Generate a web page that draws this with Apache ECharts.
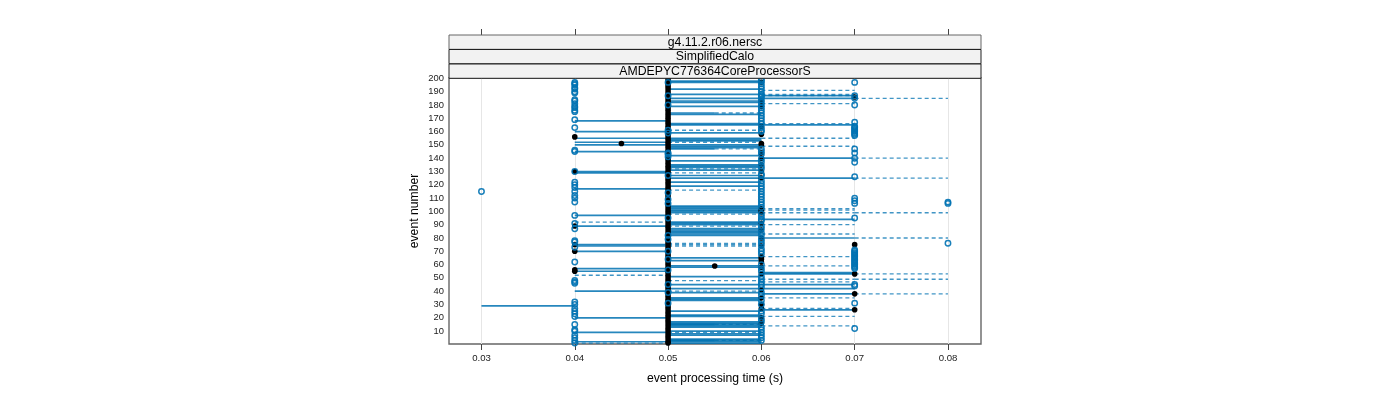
<!DOCTYPE html>
<html><head><meta charset="utf-8">
<script src="https://cdn.jsdelivr.net/npm/echarts@6/dist/echarts.min.js"></script>
<style>html,body{margin:0;padding:0;background:#fff}#c{width:1400px;height:400px}</style>
</head><body><div id="c"></div>
<script>
const stripLabels = ['g4.11.2.r06.nersc', 'SimplifiedCalo', 'AMDEPYC776364CoreProcessorS'];
const xTicks = [0.03, 0.04, 0.05, 0.06, 0.07, 0.08];
const yTicks = [10,20,30,40,50,60,70,80,90,100,110,120,130,140,150,160,170,180,190,200];

// box segments, by event number
const solid0304 = [29];
const solid0405 = [168,160,155,152,150,145,130,129,117,97,89,75,74,70,57,55,40,20,9,2];
const solid0506 = [198,197,192,188,185,183,182,179,173,166,165,159,155,154,153,150,149,148,142,138,135,134,133,131,127,125,122,119,104,103,102,101,100,99,92,91,90,87,86,85,84,83,82,65,63,59,58,51,45,42,39,35,34,33,25,22,21,17,16,15,14,13,10,8,7,4,3,2,1];
const solid0607 = [187,185,165,140,125,94,80,54,53,45,42,38,26];
const solid05055 = [174,147,15,3];
const dashed0405 = [92,52,1];
const dashed05506 = [174,147,15,3];
const dashed0506 = [161,152,132,129,116,98,89,76,75,74,48,40,9];
const dashed0607 = [191,188,187,181,166,155,149,102,101,99,90,83,66,59,49,47,35,27,21,14];
const dashed0708 = [185,140,125,99,80,53,49,38];

// open points, by event number
const open03 = [115];
const open04 = [197,196,195,193,192,190,189,184,183,181,179,178,176,175,169,163,146,145,130,122,120,118,115,112,110,107,97,91,87,78,77,73,62,48,47,46,32,30,27,25,23,21,15,11,10,7,5,3,1];
const open05 = [197,187,180,161,159,144,143,141,127,114,109,106,95,82,79,70,64,56,45,39,31];
const open06 = [199,198,196,194,192,190,188,187,186,184,182,180,178,176,174,172,170,168,166,163,161,160,147,145,143,139,137,134,132,128,127,123,121,119,117,115,113,111,109,107,105,103,98,96,94,93,89,87,84,82,79,77,75,72,70,68,60,57,55,51,49,47,45,43,39,37,33,30,25,23,19,17,13,11,9,7,5,3];
const open07 = [197,187,185,180,167,164,163,162,161,160,159,158,157,147,144,140,137,126,110,108,106,95,71,70,69,68,67,66,65,64,63,62,61,60,59,58,57,45,44,31,12];
const open08 = [107,106,76];

// medians, by event number
const dot04 = [156,130,89,75,70,56,55];
const dot045 = [151];
const dot05 = [200,198,196,194,192,190,188,186,184,182,180,178,176,174,172,170,168,166,164,162,160,158,156,154,152,150,148,146,144,142,140,138,136,134,132,130,128,126,124,122,120,118,116,114,112,110,108,106,104,102,100,98,96,94,92,90,88,86,84,82,80,78,76,74,72,70,68,66,64,62,60,58,56,54,52,50,48,46,44,42,40,38,36,34,32,30,28,26,24,22,20,18,16,14,12,10,8,6,4,2,1];
const dot055 = [59];
const dot06 = [197,183,179,164,158,151,150,144,140,135,130,125,102,101,100,99,91,86,80,74,66,65,64,62,58,53,41,35,30,27,20,16];
const dot07 = [186,75,53,38,26];

const BLUE = 'rgb(0,114,178)';
const spans = (list, a, b) => list.map(e => [a, b, e]);
const solidSegs = [...spans(solid0304,0.03,0.04), ...spans(solid0405,0.04,0.05), ...spans(solid0506,0.05,0.06), ...spans(solid0607,0.06,0.07), ...spans(solid05055,0.05,0.055)];
const dashedSegs = [...spans(dashed0405,0.04,0.05), ...spans(dashed05506,0.055,0.06), ...spans(dashed0506,0.05,0.06), ...spans(dashed0607,0.06,0.07), ...spans(dashed0708,0.07,0.08)];
const pts = (list, x) => list.map(e => [x, e]);
const openPts = [...pts(open03,0.03), ...pts(open04,0.04), ...pts(open05,0.05), ...pts(open06,0.06), ...pts(open07,0.07), ...pts(open08,0.08)];
const dotPts = [...pts(dot04,0.04), ...pts(dot045,0.045), ...pts(dot05,0.05), ...pts(dot055,0.055), ...pts(dot06,0.06), ...pts(dot07,0.07)];

const segSeries = (data, style, z) => ({
  type: 'custom', data, z, silent: true, clip: false,
  encode: {x: [0, 1], y: 2},
  renderItem: (params, api) => {
    const p1 = api.coord([api.value(0), api.value(2)]);
    const p2 = api.coord([api.value(1), api.value(2)]);
    return {type: 'line', shape: {x1: p1[0], y1: p1[1], x2: p2[0], y2: p2[1]}, style: style};
  }
});

const F = 'Liberation Sans, Arial, sans-serif';
const L = 449, R = 981, T = 78, B = 344;
const stripTop = [35, 49.5, 64];
const stripH = 14.3;
const graphic = [];
stripLabels.forEach((t, i) => {
  graphic.push({type: 'rect', z: 5, shape: {x: L, y: stripTop[i], width: R - L, height: stripH},
    style: {fill: '#f2f2f2', stroke: i === 0 ? '#666' : '#222', lineWidth: 1}});
  graphic.push({type: 'text', z: 6, x: (L + R) / 2, y: stripTop[i] + stripH / 2 + 0.4,
    style: {text: t, font: '12.25px ' + F, fill: '#000', align: 'center', verticalAlign: 'middle'}});
});

const chart = echarts.init(document.getElementById('c'), null, {renderer: 'canvas'});
chart.setOption({
  animation: false,
  backgroundColor: '#fff',
  graphic,
  grid: {left: L, top: T, width: R - L, height: B - T, show: true, backgroundColor: 'transparent', borderColor: '#666', borderWidth: 1.4, containLabel: false},
  xAxis: [{
    type: 'value', min: 0.02652, max: 0.08354, position: 'bottom',
    name: 'event processing time (s)', nameLocation: 'middle', nameGap: 29,
    nameTextStyle: {fontFamily: F, fontSize: 12.2, color: '#000'},
    axisLine: {show: false},
    axisTick: {show: true, length: 6, inside: false, customValues: xTicks, lineStyle: {color: '#444', width: 1}},
    axisLabel: {show: true, customValues: xTicks, margin: 9, fontFamily: F, fontSize: 9.6, color: '#222', formatter: v => v.toFixed(2)},
    splitLine: {show: true, lineStyle: {color: '#e6e6e6', width: 1}}
  }, {
    type: 'value', min: 0.02652, max: 0.08354, position: 'top', offset: 43,
    axisLine: {show: false},
    axisTick: {show: true, length: 6, customValues: xTicks, lineStyle: {color: '#444', width: 1}},
    axisLabel: {show: false},
    splitLine: {show: false}
  }],
  yAxis: {
    type: 'value', min: 0.3, max: 200.3,
    name: 'event number', nameLocation: 'middle', nameGap: 28, nameRotate: 90,
    nameTextStyle: {fontFamily: F, fontSize: 12.2, color: '#000'},
    axisLine: {show: false},
    axisTick: {show: false, customValues: yTicks},
    axisLabel: {show: true, customValues: yTicks, margin: 5, fontFamily: F, fontSize: 9.4, color: '#222'},
    splitLine: {show: false}
  },
  series: [
    segSeries(solidSegs, {stroke: BLUE, lineWidth: 1.7, opacity: 0.85}, 2),
    segSeries(dashedSegs, {stroke: BLUE, lineWidth: 1.3, opacity: 0.75, lineDash: [4, 3]}, 2),
    {type: 'scatter', data: dotPts, z: 3, symbol: 'circle', symbolSize: 5.6, silent: true, clip: false, itemStyle: {color: '#000', opacity: 1}},
    {type: 'scatter', data: openPts, z: 4, symbol: 'circle', symbolSize: 5.4, silent: true, clip: false, itemStyle: {color: 'transparent', borderColor: BLUE, borderWidth: 1.5, opacity: 0.9}}
  ]
});
</script></body></html>
